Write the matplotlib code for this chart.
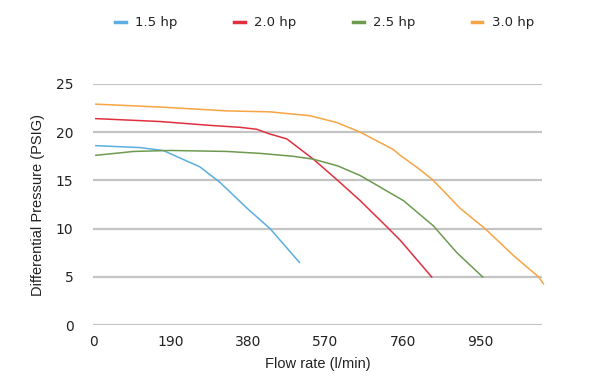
import matplotlib.pyplot as plt

# Pump curves
x_15 = [7, 115, 172, 262, 311, 378, 434, 506]
y_15 = [18.6, 18.4, 18.1, 16.4, 14.8, 12.1, 10.0, 6.5]

x_20 = [7, 164, 287, 360, 401, 434, 475, 540, 597, 655, 720, 753, 830]
y_20 = [21.4, 21.1, 20.7, 20.5, 20.3, 19.8, 19.3, 17.2, 15.1, 12.9, 10.2, 8.8, 5.0]

x_25 = [7, 100, 190, 328, 409, 490, 540, 600, 655, 761, 834, 892, 955]
y_25 = [17.6, 18.0, 18.1, 18.0, 17.8, 17.5, 17.2, 16.5, 15.5, 12.9, 10.3, 7.5, 5.0]

x_30 = [7, 164, 328, 434, 532, 597, 655, 736, 753, 802, 834, 900, 961, 1031, 1092, 1104]
y_30 = [22.9, 22.6, 22.2, 22.1, 21.7, 21.0, 20.0, 18.2, 17.6, 16.1, 15.0, 12.1, 10.0, 7.2, 5.0, 4.3]

labels = ['1.5 hp', '2.0 hp', '2.5 hp', '3.0 hp']
colors = ['#5BAEDF', '#E0303F', '#6E9A50', '#F7A544']
x_ticks = [0, 190, 380, 570, 760, 950]
y_ticks = [0, 5, 10, 15, 20, 25]

fig = plt.figure(figsize=(6, 3.83), dpi=100)
ax = fig.add_axes([0.155, 0.151, 0.748, 0.630])

series = [(x_15, y_15), (x_20, y_20), (x_25, y_25), (x_30, y_30)]
for (xs, ys), lab, c in zip(series, labels, colors):
    ax.plot(xs, ys, color=c, lw=1.1, label=lab, clip_on=False, zorder=3)

ax.set_xlim(0, 1100)
ax.set_ylim(0, 25)
ax.set_xticks(x_ticks)
ax.set_yticks(y_ticks)
ax.yaxis.grid(True, color='#c4c4c4', lw=1.6)
ax.set_axisbelow(True)
for s in ax.spines.values():
    s.set_visible(False)
ax.tick_params(length=0, labelsize=10, colors='#222222', pad=7)
ax.tick_params(axis='y', pad=14)

ax.set_xlabel('Flow rate (l/min)', family='Liberation Sans', fontsize=10.5,
              color='#222222', labelpad=6)
ax.set_ylabel('Differential Pressure (PSIG)', family='Liberation Sans',
              fontsize=10.5, color='#222222', labelpad=8)

fig.legend(loc='center', bbox_to_anchor=(0.541, 0.94), ncol=4, frameon=False,
           fontsize=9.5, handlelength=0.8, handletextpad=0.7, columnspacing=4.3,
           labelcolor='#222222')
for h in fig.legends[0].get_lines():
    h.set_linewidth(2.5)

plt.savefig('out.png', dpi=100)
